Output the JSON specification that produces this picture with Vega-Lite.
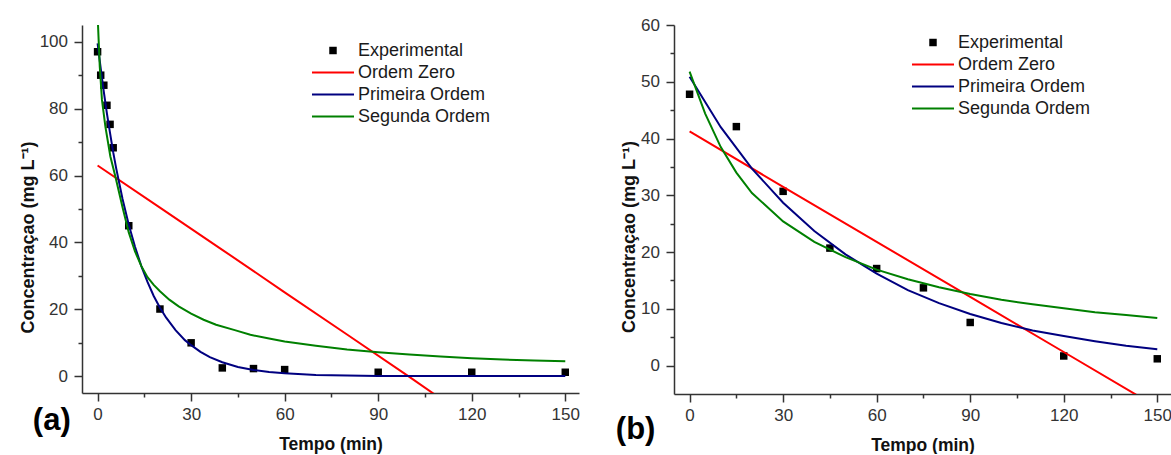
{
  "$schema": "https://vega.github.io/schema/vega-lite/v6.json",
  "padding": {"left": 19, "top": 16, "right": 0, "bottom": 0},
  "background": "white",
  "config": {
    "view": {"stroke": null},
    "axis": {
      "grid": false,
      "domainColor": "#333333",
      "domainWidth": 1.5,
      "tickColor": "#333333",
      "tickWidth": 1.5,
      "labelFont": "Liberation Sans",
      "labelFontSize": 17,
      "labelColor": "#333333",
      "titleFont": "Liberation Sans",
      "titleFontSize": 17.5,
      "titleFontWeight": "bold",
      "titleColor": "#111111",
      "labelOverlap": false,
      "labelFlush": false
    }
  },
  "datasets": {
    "expA": [
      {"t": 0, "C": 97}, {"t": 1, "C": 90}, {"t": 2, "C": 87}, {"t": 3, "C": 81},
      {"t": 4, "C": 75.3}, {"t": 5, "C": 68.3}, {"t": 10, "C": 45}, {"t": 20, "C": 20.1},
      {"t": 30, "C": 10}, {"t": 40, "C": 2.5}, {"t": 50, "C": 2.3}, {"t": 60, "C": 2},
      {"t": 90, "C": 1.2}, {"t": 120, "C": 1.2}, {"t": 150, "C": 1.2}
    ],
    "fitA": [
      {"model": "Ordem Zero", "t": 0, "C": 63},
      {"model": "Ordem Zero", "t": 20, "C": 50.4},
      {"model": "Ordem Zero", "t": 40, "C": 37.8},
      {"model": "Ordem Zero", "t": 60, "C": 25.1},
      {"model": "Ordem Zero", "t": 80, "C": 12.5},
      {"model": "Ordem Zero", "t": 100, "C": -0.2},
      {"model": "Ordem Zero", "t": 109, "C": -6},
      {"model": "Primeira Ordem", "t": 0, "C": 99.5},
      {"model": "Primeira Ordem", "t": 1, "C": 92},
      {"model": "Primeira Ordem", "t": 2, "C": 85},
      {"model": "Primeira Ordem", "t": 3, "C": 78.5},
      {"model": "Primeira Ordem", "t": 4, "C": 72.7},
      {"model": "Primeira Ordem", "t": 5, "C": 67},
      {"model": "Primeira Ordem", "t": 6, "C": 62},
      {"model": "Primeira Ordem", "t": 8, "C": 53},
      {"model": "Primeira Ordem", "t": 10, "C": 45.3},
      {"model": "Primeira Ordem", "t": 12, "C": 38.7},
      {"model": "Primeira Ordem", "t": 14, "C": 33},
      {"model": "Primeira Ordem", "t": 16, "C": 28.2},
      {"model": "Primeira Ordem", "t": 18, "C": 24},
      {"model": "Primeira Ordem", "t": 20, "C": 20.5},
      {"model": "Primeira Ordem", "t": 22, "C": 17.5},
      {"model": "Primeira Ordem", "t": 25, "C": 13.8},
      {"model": "Primeira Ordem", "t": 28, "C": 10.8},
      {"model": "Primeira Ordem", "t": 30, "C": 9.3},
      {"model": "Primeira Ordem", "t": 33, "C": 7.3},
      {"model": "Primeira Ordem", "t": 36, "C": 5.7},
      {"model": "Primeira Ordem", "t": 40, "C": 4.2},
      {"model": "Primeira Ordem", "t": 45, "C": 2.8},
      {"model": "Primeira Ordem", "t": 50, "C": 1.9},
      {"model": "Primeira Ordem", "t": 55, "C": 1.3},
      {"model": "Primeira Ordem", "t": 60, "C": 0.9},
      {"model": "Primeira Ordem", "t": 70, "C": 0.4},
      {"model": "Primeira Ordem", "t": 80, "C": 0.2},
      {"model": "Primeira Ordem", "t": 90, "C": 0.1},
      {"model": "Primeira Ordem", "t": 120, "C": 0.05},
      {"model": "Primeira Ordem", "t": 150, "C": 0.05},
      {"model": "Segunda Ordem", "t": 0, "C": 108},
      {"model": "Segunda Ordem", "t": 0.7, "C": 92.5},
      {"model": "Segunda Ordem", "t": 1.4, "C": 82.6},
      {"model": "Segunda Ordem", "t": 2.5, "C": 74.6},
      {"model": "Segunda Ordem", "t": 4.1, "C": 65.7},
      {"model": "Segunda Ordem", "t": 5.7, "C": 59.7},
      {"model": "Segunda Ordem", "t": 8, "C": 50.5},
      {"model": "Segunda Ordem", "t": 10, "C": 43},
      {"model": "Segunda Ordem", "t": 12, "C": 37.3},
      {"model": "Segunda Ordem", "t": 14, "C": 33},
      {"model": "Segunda Ordem", "t": 16, "C": 29.6},
      {"model": "Segunda Ordem", "t": 18, "C": 27.3},
      {"model": "Segunda Ordem", "t": 20, "C": 25.4},
      {"model": "Segunda Ordem", "t": 23, "C": 22.9},
      {"model": "Segunda Ordem", "t": 26, "C": 20.9},
      {"model": "Segunda Ordem", "t": 30, "C": 18.7},
      {"model": "Segunda Ordem", "t": 34, "C": 16.9},
      {"model": "Segunda Ordem", "t": 38, "C": 15.4},
      {"model": "Segunda Ordem", "t": 44, "C": 13.8},
      {"model": "Segunda Ordem", "t": 49, "C": 12.4},
      {"model": "Segunda Ordem", "t": 55, "C": 11.3},
      {"model": "Segunda Ordem", "t": 60, "C": 10.4},
      {"model": "Segunda Ordem", "t": 70, "C": 9.1},
      {"model": "Segunda Ordem", "t": 80, "C": 8},
      {"model": "Segunda Ordem", "t": 90, "C": 7.2},
      {"model": "Segunda Ordem", "t": 100, "C": 6.5},
      {"model": "Segunda Ordem", "t": 110, "C": 5.9},
      {"model": "Segunda Ordem", "t": 120, "C": 5.4},
      {"model": "Segunda Ordem", "t": 130, "C": 5},
      {"model": "Segunda Ordem", "t": 140, "C": 4.7},
      {"model": "Segunda Ordem", "t": 150, "C": 4.5}
    ],
    "labelA": [{"label": "(a)"}],
    "expB": [
      {"t": 0, "C": 47.8}, {"t": 15, "C": 42.1}, {"t": 30, "C": 30.7}, {"t": 45, "C": 20.7},
      {"t": 60, "C": 17.1}, {"t": 75, "C": 13.7}, {"t": 90, "C": 7.6}, {"t": 120, "C": 1.7},
      {"t": 150, "C": 1.2}
    ],
    "fitB": [
      {"model": "Ordem Zero", "t": 0, "C": 41.25},
      {"model": "Ordem Zero", "t": 30, "C": 31.5},
      {"model": "Ordem Zero", "t": 60, "C": 21.8},
      {"model": "Ordem Zero", "t": 90, "C": 12.1},
      {"model": "Ordem Zero", "t": 120, "C": 2.4},
      {"model": "Ordem Zero", "t": 145, "C": -5.7},
      {"model": "Primeira Ordem", "t": 0, "C": 50.9},
      {"model": "Primeira Ordem", "t": 10, "C": 42},
      {"model": "Primeira Ordem", "t": 20, "C": 34.7},
      {"model": "Primeira Ordem", "t": 30, "C": 28.7},
      {"model": "Primeira Ordem", "t": 40, "C": 23.7},
      {"model": "Primeira Ordem", "t": 50, "C": 19.6},
      {"model": "Primeira Ordem", "t": 60, "C": 16.2},
      {"model": "Primeira Ordem", "t": 70, "C": 13.3},
      {"model": "Primeira Ordem", "t": 80, "C": 11},
      {"model": "Primeira Ordem", "t": 90, "C": 9.1},
      {"model": "Primeira Ordem", "t": 100, "C": 7.5},
      {"model": "Primeira Ordem", "t": 110, "C": 6.2},
      {"model": "Primeira Ordem", "t": 120, "C": 5.2},
      {"model": "Primeira Ordem", "t": 130, "C": 4.3},
      {"model": "Primeira Ordem", "t": 140, "C": 3.5},
      {"model": "Primeira Ordem", "t": 150, "C": 2.9},
      {"model": "Segunda Ordem", "t": 0, "C": 51.8},
      {"model": "Segunda Ordem", "t": 5, "C": 44.4},
      {"model": "Segunda Ordem", "t": 10, "C": 38.5},
      {"model": "Segunda Ordem", "t": 15, "C": 34},
      {"model": "Segunda Ordem", "t": 20, "C": 30.4},
      {"model": "Segunda Ordem", "t": 30, "C": 25.4},
      {"model": "Segunda Ordem", "t": 40, "C": 21.8},
      {"model": "Segunda Ordem", "t": 50, "C": 19.1},
      {"model": "Segunda Ordem", "t": 60, "C": 16.9},
      {"model": "Segunda Ordem", "t": 70, "C": 15.2},
      {"model": "Segunda Ordem", "t": 80, "C": 13.8},
      {"model": "Segunda Ordem", "t": 90, "C": 12.6},
      {"model": "Segunda Ordem", "t": 100, "C": 11.6},
      {"model": "Segunda Ordem", "t": 110, "C": 10.8},
      {"model": "Segunda Ordem", "t": 120, "C": 10.1},
      {"model": "Segunda Ordem", "t": 130, "C": 9.4},
      {"model": "Segunda Ordem", "t": 140, "C": 8.9},
      {"model": "Segunda Ordem", "t": 150, "C": 8.4}
    ],
    "labelB": [{"label": "(b)"}]
  },
  "spacing": 95,
  "bounds": "flush",
  "resolve": {
    "scale": {"color": "independent", "shape": "independent"},
    "legend": {"color": "independent", "shape": "independent"}
  },
  "hconcat": [
    {
      "width": 497,
      "height": 368,
      "resolve": {"axis": {"x": "independent", "y": "independent"}},
      "layer": [
        {
          "data": {"name": "expA"},
          "mark": {"type": "point", "filled": true, "size": 56, "opacity": 1, "color": "#000000"},
          "encoding": {
            "x": {
              "field": "t", "type": "quantitative",
              "scale": {"domain": [-5, 154.4], "nice": false, "zero": false},
              "axis": {"title": "Tempo (min)", "orient": "bottom", "values": [0, 30, 60, 90, 120, 150], "tickSize": 8, "labelPadding": 5, "titlePadding": 13}
            },
            "y": {
              "field": "C", "type": "quantitative",
              "scale": {"domain": [-5, 105], "nice": false, "zero": false},
              "axis": {"title": "Concentraçao (mg L⁻¹)", "orient": "left", "values": [0, 20, 40, 60, 80, 100], "tickSize": 8, "labelPadding": 6.5, "titlePadding": 2, "titleFontSize": 18, "titleY": 212}
            },
            "shape": {
              "datum": "Experimental", "type": "nominal",
              "scale": {"domain": ["Experimental"], "range": ["square"]},
              "legend": {
                "title": null, "orient": "none", "legendX": 242, "legendY": 16.5, "padding": 0,
                "symbolSize": 56, "symbolFillColor": "#000000", "symbolStrokeWidth": 0,
                "labelOffset": 16, "labelFont": "Liberation Sans", "labelFontSize": 18,
                "labelColor": "#1a1a1a", "labelLimit": 0
              }
            }
          }
        },
        {
          "data": {"name": "fitA"},
          "mark": {"type": "line", "clip": true, "strokeWidth": 2},
          "encoding": {
            "x": {
              "field": "t", "type": "quantitative",
              "scale": {"domain": [-5, 154.4], "nice": false, "zero": false},
              "axis": {"title": null, "orient": "bottom", "values": [15, 45, 75, 105, 135], "labels": false, "domain": false, "tickSize": 4}
            },
            "y": {
              "field": "C", "type": "quantitative",
              "scale": {"domain": [-5, 105], "nice": false, "zero": false},
              "axis": {"title": null, "orient": "left", "values": [10, 30, 50, 70, 90], "labels": false, "domain": false, "tickSize": 4}
            },
            "color": {
              "field": "model", "type": "nominal",
              "scale": {"domain": ["Ordem Zero", "Primeira Ordem", "Segunda Ordem"], "range": ["#ff0000", "#000080", "#008000"]},
              "legend": {
                "title": null, "orient": "none", "legendX": 242, "legendY": 38.5, "padding": 0,
                "symbolType": "M-5,0H5", "symbolSize": 70.6, "symbolStrokeWidth": 2,
                "labelOffset": 16, "rowPadding": 4, "labelFont": "Liberation Sans", "labelFontSize": 18,
                "labelColor": "#1a1a1a", "labelLimit": 0
              }
            }
          }
        },
        {
          "data": {"name": "labelA"},
          "mark": {"type": "text", "font": "Liberation Sans", "fontSize": 31, "fontWeight": "bold", "align": "center", "baseline": "middle", "color": "#000000"},
          "encoding": {
            "x": {"datum": -14.7, "type": "quantitative", "axis": null, "scale": {"domain": [-5, 154.4], "nice": false, "zero": false}},
            "y": {"datum": -13.3, "type": "quantitative", "axis": null, "scale": {"domain": [-5, 105], "nice": false, "zero": false}},
            "text": {"field": "label"}
          }
        }
      ]
    },
    {
      "width": 497,
      "height": 369,
      "resolve": {"axis": {"x": "independent", "y": "independent"}},
      "layer": [
        {
          "data": {"name": "expB"},
          "mark": {"type": "point", "filled": true, "size": 56, "opacity": 1, "color": "#000000"},
          "encoding": {
            "x": {
              "field": "t", "type": "quantitative",
              "scale": {"domain": [-5, 154.4], "nice": false, "zero": false},
              "axis": {"title": "Tempo (min)", "orient": "bottom", "values": [0, 30, 60, 90, 120, 150], "tickSize": 8, "labelPadding": 5, "titlePadding": 13}
            },
            "y": {
              "field": "C", "type": "quantitative",
              "scale": {"domain": [-5, 60], "nice": false, "zero": false},
              "axis": {"title": "Concentraçao (mg L⁻¹)", "orient": "left", "values": [0, 10, 20, 30, 40, 50, 60], "tickSize": 8, "labelPadding": 6.5, "titlePadding": 2, "titleFontSize": 18, "titleY": 211.5}
            },
            "shape": {
              "datum": "Experimental", "type": "nominal",
              "scale": {"domain": ["Experimental"], "range": ["square"]},
              "legend": {
                "title": null, "orient": "none", "legendX": 250, "legendY": 8.5, "padding": 0,
                "symbolSize": 56, "symbolFillColor": "#000000", "symbolStrokeWidth": 0,
                "labelOffset": 16, "labelFont": "Liberation Sans", "labelFontSize": 18,
                "labelColor": "#1a1a1a", "labelLimit": 0
              }
            }
          }
        },
        {
          "data": {"name": "fitB"},
          "mark": {"type": "line", "clip": true, "strokeWidth": 2},
          "encoding": {
            "x": {
              "field": "t", "type": "quantitative",
              "scale": {"domain": [-5, 154.4], "nice": false, "zero": false},
              "axis": {"title": null, "orient": "bottom", "values": [15, 45, 75, 105, 135], "labels": false, "domain": false, "tickSize": 4}
            },
            "y": {
              "field": "C", "type": "quantitative",
              "scale": {"domain": [-5, 60], "nice": false, "zero": false},
              "axis": {"title": null, "orient": "left", "values": [5, 15, 25, 35, 45, 55], "labels": false, "domain": false, "tickSize": 4}
            },
            "color": {
              "field": "model", "type": "nominal",
              "scale": {"domain": ["Ordem Zero", "Primeira Ordem", "Segunda Ordem"], "range": ["#ff0000", "#000080", "#008000"]},
              "legend": {
                "title": null, "orient": "none", "legendX": 250, "legendY": 30.5, "padding": 0,
                "symbolType": "M-5,0H5", "symbolSize": 70.6, "symbolStrokeWidth": 2,
                "labelOffset": 16, "rowPadding": 4, "labelFont": "Liberation Sans", "labelFontSize": 18,
                "labelColor": "#1a1a1a", "labelLimit": 0
              }
            }
          }
        },
        {
          "data": {"name": "labelB"},
          "mark": {"type": "text", "font": "Liberation Sans", "fontSize": 31, "fontWeight": "bold", "align": "center", "baseline": "middle", "color": "#000000"},
          "encoding": {
            "x": {"datum": -17.3, "type": "quantitative", "axis": null, "scale": {"domain": [-5, 154.4], "nice": false, "zero": false}},
            "y": {"datum": -11.3, "type": "quantitative", "axis": null, "scale": {"domain": [-5, 60], "nice": false, "zero": false}},
            "text": {"field": "label"}
          }
        }
      ]
    }
  ]
}
